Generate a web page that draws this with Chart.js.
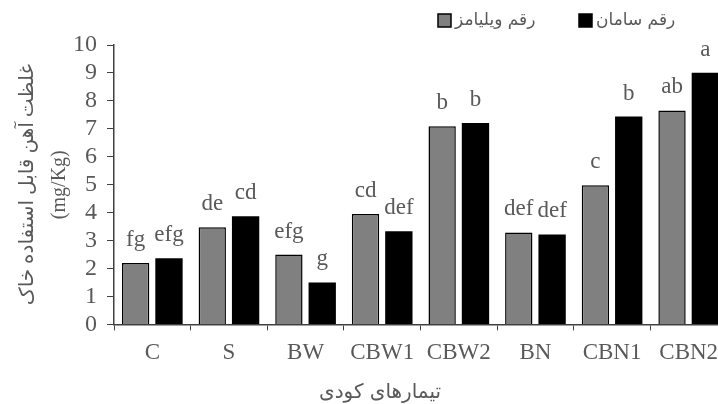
<!DOCTYPE html>
<html>
<head>
<meta charset="utf-8">
<script src="https://cdn.jsdelivr.net/npm/chart.js@4"></script>
<style>
  html, body { margin: 0; padding: 0; overflow: hidden; background: #fff; }
  canvas { display: block; }
</style>
</head>
<body>
<canvas id="chart" width="735" height="404"></canvas>
<script>
const treatments = ['C', 'S', 'BW', 'CBW1', 'CBW2', 'BN', 'CBN1', 'CBN2'];
const williamsValues = [2.2, 3.48, 2.5, 3.95, 7.09, 3.29, 4.98, 7.66];
const samanValues = [2.37, 3.87, 1.5, 3.33, 7.21, 3.22, 7.44, 9.01];
const williamsLetters = ['fg', 'de', 'efg', 'cd', 'b', 'def', 'c', 'ab'];
const samanLetters = ['efg', 'cd', 'g', 'def', 'b', 'def', 'b', 'a'];
const yTicks = [0, 1, 2, 3, 4, 5, 6, 7, 8, 9, 10];

const serif = "'Liberation Serif', 'Times New Roman', 'DejaVu Sans', serif";
const persian = "'DejaVu Sans', 'Liberation Sans', sans-serif";
const axisColor = '#404040';
const textColor = '#595959';

// letters above each bar
const letterLabels = {
    id: 'letterLabels',
    afterDatasetsDraw(chart) {
        const ctx = chart.ctx;
        ctx.save();
        ctx.font = '23px ' + serif;
        ctx.fillStyle = textColor;
        ctx.textAlign = 'center';
        ctx.textBaseline = 'alphabetic';
        chart.data.datasets.forEach(function (ds, di) {
            chart.getDatasetMeta(di).data.forEach(function (bar, i) {
                ctx.fillText(ds.letters[i], bar.x, bar.y - 17);
            });
        });
        ctx.restore();
    }
};

// legend at top right and x axis title
const extras = {
    id: 'extras',
    afterDraw(chart) {
        const ctx = chart.ctx;
        ctx.save();
        ctx.font = '17px ' + persian;
        ctx.textBaseline = 'middle';
        ctx.textAlign = 'left';
        const spots = [438, 579];
        chart.data.datasets.forEach(function (ds, di) {
            const x = spots[di];
            ctx.fillStyle = ds.backgroundColor;
            ctx.fillRect(x, 14, 13, 13);
            ctx.strokeStyle = '#000';
            ctx.lineWidth = 1.5;
            ctx.strokeRect(x, 14, 13, 13);
            ctx.fillStyle = textColor;
            ctx.fillText(ds.label, x + 17, 21);
        });
        ctx.font = '20px ' + persian;
        ctx.textAlign = 'center';
        ctx.fillText('تیمارهای کودی', 380, 393);
        ctx.restore();
    }
};

new Chart(document.getElementById('chart'), {
    type: 'bar',
    data: {
        labels: treatments,
        datasets: [{
            label: 'رقم ویلیامز',
            data: williamsValues,
            letters: williamsLetters,
            backgroundColor: '#808080',
            borderColor: '#000',
            borderWidth: 1.5
        }, {
            label: 'رقم سامان',
            data: samanValues,
            letters: samanLetters,
            backgroundColor: '#000000',
            borderColor: '#000',
            borderWidth: 0
        }]
    },
    options: {
        responsive: false,
        animation: false,
        categoryPercentage: 0.87,
        barPercentage: 0.82,
        layout: { padding: { top: 45, right: 8, bottom: 28, left: 0 } },
        plugins: {
            legend: { display: false },
            tooltip: { enabled: false }
        },
        scales: {
            x: {
                grid: { display: true, drawOnChartArea: false, drawTicks: true, tickLength: 6, color: axisColor, offset: true },
                border: { display: true, color: axisColor, width: 1.5 },
                ticks: { color: textColor, font: { family: serif, size: 23 }, padding: 9, maxRotation: 0, autoSkip: false }
            },
            y: {
                min: 0,
                max: 10,
                afterFit(scale) { scale.width = 114; },
                afterBuildTicks(scale) { scale.ticks = yTicks.map(v => ({ value: v })); },
                grid: { display: true, drawOnChartArea: false, drawTicks: true, tickLength: 7, color: axisColor },
                border: { display: true, color: axisColor, width: 1.5 },
                ticks: { color: textColor, font: { family: serif, size: 24 }, padding: 10, autoSkip: false, stepSize: 1 },
                title: {
                    display: true,
                    text: ['غلظت آهن قابل استفاده خاک', '(mg/Kg)'],
                    color: textColor,
                    font: { family: serif, size: 20, lineHeight: 1.6 },
                    padding: { top: 12, bottom: 0 }
                }
            }
        }
    },
    plugins: [letterLabels, extras]
});
</script>
</body>
</html>
